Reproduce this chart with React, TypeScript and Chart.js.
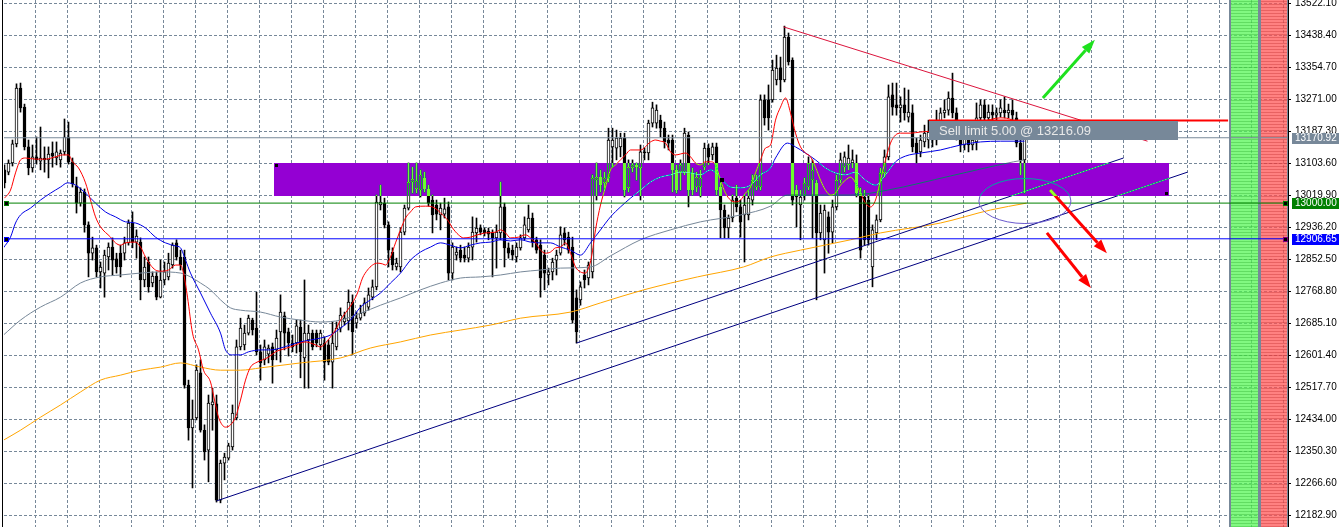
import React, { useEffect, useRef } from "react";
import { Chart, registerables } from "chart.js";

Chart.register(...registerables);

// ---------- Candles (bar 1..256) ----------
const opens = [13087,13081,13105,13155,13301,13251,13147,13092,13121,13110,
13118,13113,13131,13118,13113,13134,13173,13108,13045,13000,
13029,12943,12869,12883,12820,12817,12859,12885,12854,12869,
12869,12896,12948,12898,12898,12799,12846,12791,12809,12754,
12799,12807,12838,12896,12859,12859,12524,12412,12438,12556,
12406,12354,12472,12475,12223,12320,12333,12362,12438,12624,
12629,12660,12694,12673,12611,12590,12605,12624,12616,12663,
12705,12663,12634,12634,12676,12595,12642,12660,12660,12629,
12634,12629,12584,12624,12673,12689,12692,12741,12686,12699,
12712,12728,12754,12781,12995,13000,12943,12872,12833,12833,
12924,12987,13055,13037,13034,13066,13037,13008,12995,12969,
12971,12990,12817,12864,12877,12864,12856,12885,12922,12935,
12930,12927,12922,12909,12922,12990,12883,12877,12859,12883,
12909,12930,12961,12904,12890,12864,12812,12820,12851,12869,
12922,12911,12885,12752,12747,12812,12804,12820,13060,13068,
13053,13066,13147,13144,13147,13170,13040,13092,13100,13092,
13134,13131,13209,13209,13217,13196,13165,13165,13087,13081,
13081,13178,13079,13042,13042,13094,13144,13126,13147,13042,
12982,12935,12961,13013,12990,12969,12969,13008,13042,13042,
13270,13270,13270,13322,13353,13322,13434,13374,13034,12995,
13021,13042,13060,13053,12922,12904,12964,12924,12990,13060,
13094,13100,13105,13105,13026,13016,13008,12833,12922,12956,
13079,13121,13283,13257,13249,13257,13225,13236,13157,13134,
13160,13165,13183,13165,13191,13236,13243,13275,13236,13191,
13152,13165,13152,13160,13223,13257,13223,13238,13230,13236,
13243,13236,13243,13223,13157,13113];

const highs = [13100,13113,13165,13312,13314,13259,13165,13152,13173,13199,
13147,13147,13160,13160,13139,13220,13212,13118,13068,13040,
13037,12951,12911,12890,12846,12877,12896,12909,12869,12890,
12911,12956,12977,12930,12909,12859,12859,12820,12820,12851,
12846,12869,12896,12904,12877,12877,12537,12485,12577,12590,
12420,12498,12516,12498,12328,12346,12372,12472,12642,12699,
12681,12707,12699,12767,12629,12642,12629,12634,12668,12760,
12715,12673,12655,12694,12694,12799,12681,12668,12668,12668,
12650,12642,12689,12689,12726,12715,12773,12760,12715,12733,
12752,12778,12799,13021,13047,13013,12951,12883,12856,12935,
12995,13105,13094,13105,13087,13081,13047,13021,13008,13000,
13013,13003,12896,12885,12890,12885,12896,12964,12961,12943,
12935,12935,12930,12943,13055,13000,12896,12890,12896,12917,
12964,12995,12974,12911,12904,12877,12830,12856,12877,12938,
12935,12924,12911,12773,12794,12825,12846,13074,13105,13087,
13081,13196,13196,13191,13183,13183,13113,13113,13105,13152,
13144,13217,13264,13257,13230,13212,13178,13178,13100,13113,
13196,13186,13092,13081,13087,13157,13155,13157,13157,13053,
12995,12969,13021,13047,13008,13021,13034,13074,13074,13283,
13283,13309,13374,13387,13382,13463,13445,13380,13047,13034,
13066,13121,13113,13060,12995,12995,12977,13008,13074,13131,
13134,13152,13139,13126,13040,13034,13021,12943,12969,13092,
13139,13309,13314,13314,13278,13301,13296,13257,13170,13178,
13204,13217,13204,13243,13249,13270,13291,13340,13249,13204,
13183,13178,13191,13262,13270,13270,13257,13257,13249,13270,
13278,13259,13270,13238,13170,13178];

const lows = [13040,13074,13097,13147,13238,13139,13074,13081,13102,13087,
13081,13066,13094,13100,13094,13126,13102,13042,12974,12992,
12924,12807,12851,12807,12778,12754,12825,12812,12817,12807,
12851,12890,12883,12856,12747,12781,12767,12781,12747,12752,
12786,12799,12830,12851,12825,12516,12380,12255,12433,12401,
12328,12271,12406,12218,12216,12276,12328,12354,12433,12616,
12616,12655,12655,12603,12537,12577,12582,12529,12590,12584,
12616,12600,12611,12608,12543,12516,12516,12616,12624,12616,
12537,12577,12516,12616,12663,12681,12668,12603,12673,12694,
12705,12720,12747,12773,12982,12935,12833,12825,12825,12820,
12917,12982,13026,13026,13016,13029,12992,12922,12956,12930,
12961,12799,12799,12851,12846,12846,12846,12851,12898,12917,
12914,12904,12807,12830,12904,12833,12856,12851,12846,12877,
12904,12924,12885,12869,12754,12773,12786,12799,12812,12864,
12890,12869,12686,12634,12733,12778,12786,12804,13008,13029,
13034,13055,13094,13113,13121,13016,13029,13081,13060,13008,
13113,13113,13199,13196,13173,13144,13139,13029,13026,13034,
13074,12990,13021,13029,13016,13087,13100,13113,13021,12909,
12909,12909,12951,12977,12911,12846,12956,12995,13034,13034,
13204,13191,13264,13309,13291,13317,13361,12995,12938,12904,
13008,13034,12909,12747,12904,12817,12869,12896,12982,13053,
13081,13087,13092,13016,12856,12890,12890,12781,12904,12951,
13068,13113,13230,13230,13212,13217,13212,13134,13105,13121,
13147,13144,13147,13152,13178,13223,13230,13223,13165,13134,
13139,13134,13139,13139,13212,13212,13212,13217,13217,13225,
13223,13223,13217,13147,13074,13026];

const closes = [13053,13105,13155,13301,13249,13147,13092,13121,13113,13118,
13113,13128,13123,13134,13131,13173,13108,13050,13000,13029,
12943,12869,12883,12820,12833,12864,12885,12851,12833,12833,
12896,12948,12898,12914,12799,12833,12781,12809,12754,12799,
12820,12843,12890,12859,12838,12524,12412,12435,12563,12406,
12349,12477,12480,12223,12320,12336,12365,12451,12624,12673,
12660,12699,12668,12611,12582,12624,12621,12590,12647,12715,
12660,12634,12624,12679,12611,12660,12660,12624,12634,12660,
12584,12584,12634,12673,12707,12699,12741,12663,12699,12712,
12739,12760,12781,13003,13003,12943,12877,12838,12843,12924,
12987,13055,13063,13058,13074,13037,13000,12969,12971,12987,
12985,12817,12885,12872,12856,12856,12885,12924,12935,12924,
12922,12919,12909,12924,12990,12883,12869,12864,12885,12909,
12943,12961,12898,12877,12804,12817,12820,12846,12864,12917,
12904,12877,12694,12663,12781,12799,12838,13066,13068,13047,
13066,13165,13165,13170,13170,13034,13094,13100,13094,13134,
13131,13209,13249,13243,13196,13160,13157,13087,13034,13100,
13183,13034,13034,13068,13066,13144,13121,13147,13034,12982,
12935,12961,13008,12990,12951,12995,13013,13060,13060,13270,
13223,13223,13348,13353,13322,13434,13369,13008,13016,13016,
13053,13105,13087,12922,12974,12982,12924,12990,13060,13113,
13121,13118,13113,13026,12877,12904,12904,12930,12956,13079,
13121,13278,13251,13249,13257,13236,13238,13147,13131,13165,
13183,13186,13165,13191,13236,13243,13275,13236,13191,13152,
13170,13152,13165,13223,13257,13223,13238,13230,13236,13249,
13236,13243,13230,13157,13113,13171];

// ---------- Moving averages ----------
const redMaBars = [1,2.5,3.75,5,6.25,8.75,11.25,13.75,15.5,17,
18,19.5,21.25,22.5,23.75,25,27.5,28.75,30,31.25,
33.75,35,36.25,37.5,38.75,40,42,43.75,45,45.75,
46.75,48,49.5,50.75,52.5,53.5,54.5,56.25,57.5,58.75,
60,61.25,62.5,63.75,65.5,67,68.75,70,72.5,75,
76.25,78.75,80,81.25,82.5,83.75,85,86.75,88,89.25,
90.5,91.75,93,94.25,95.5,96.25,97.5,98.75,100,101.25,
102.5,103.75,106.25,108,109.25,110.5,111.75,113,114.5,115.75,
117.5,119.25,121.25,123.75,125,126.25,127.5,129.5,131.25,132.5,
133.75,135,136.25,137.5,138.75,140,141.25,142.5,143.75,145,
146.25,147,147.75,148.75,150,151.25,152.5,153.75,155,156.25,
157.5,160,162.5,163.75,165,166.25,167.5,168.75,171.25,172.5,
173.75,175,176.25,177.5,178.75,180,181.25,182.5,183.75,185,
186.25,187.5,188.75,190,191.25,192.5,193.75,195,196.25,197.5,
198.75,200,201.25,202.5,203.75,205,206.25,207.5,208.75,210,
211.25,212.5,213.75,215,216.25,217.5,218.75,220,221.25,222.5,
223.75,225,227.5,230,235,240,245,250,253,256];
const redMaValues = [13013,13034,13079,13113,13118,13115,13115,13121,13126,13126,
13108,13092,13053,13008,12964,12938,12911,12896,12890,12896,
12898,12885,12859,12838,12825,12822,12825,12838,12838,12817,
12754,12660,12616,12563,12532,12485,12440,12414,12420,12440,
12485,12537,12571,12582,12590,12597,12611,12616,12624,12634,
12637,12629,12624,12634,12650,12668,12694,12720,12739,12765,
12804,12825,12838,12843,12841,12838,12859,12896,12930,12961,
12977,12990,12992,12990,12982,12969,12956,12935,12917,12909,
12911,12917,12922,12924,12930,12922,12909,12911,12917,12909,
12896,12877,12869,12872,12883,12885,12896,12869,12833,12820,
12817,12830,12859,12930,12995,13042,13087,13100,13113,13126,
13139,13139,13160,13165,13162,13157,13134,13126,13131,13121,
13105,13100,13108,13108,13100,13060,13026,13008,13003,13008,
13026,13042,13079,13113,13144,13152,13217,13251,13275,13236,
13183,13147,13131,13121,13094,13060,13034,13021,13026,13047,
13060,13068,13053,13026,13000,12990,13008,13060,13113,13157,
13178,13183,13183,13186,13191,13204,13212,13223,13217,13191];

const blueMaBars = [0.75,2.5,3.75,5,7.5,10,12.5,15,16.75,18.75,
21.25,23.75,26.25,28.75,31.25,33.75,36.25,38.75,41.25,43.75,
45,46.25,47.5,50,52.5,55,56.25,58,60,62,
65,67.5,70,72.5,75,77.5,80,82.5,85,87.5,
90,92.5,95,97.5,100,102.5,105,107.5,110,112.5,
115,117.5,120,122.5,125,127.5,130,132.5,135,137.5,
140,142.5,145,147.5,150,152.5,155,157.5,160,162.5,
165,167.5,170,172.5,175,177.5,180,182.5,185,187.5,
190,192.5,193.75,196.75,198.75,201.25,203.75,206.25,208.75,211.25,
213.75,216.25,218.75,221.25,223.75,226.25,230,235,240,245,
250,256];
const blueMaValues = [12883,12911,12948,12969,12987,13008,13026,13042,13053,13047,
13026,13000,12977,12964,12951,12948,12935,12911,12896,12888,
12883,12851,12817,12765,12712,12660,12616,12603,12603,12611,
12616,12616,12621,12629,12637,12642,12647,12655,12673,12694,
12728,12747,12765,12791,12817,12851,12872,12885,12896,12890,
12883,12890,12896,12898,12904,12901,12904,12898,12896,12896,
12885,12877,12864,12896,12930,12964,12990,13013,13034,13055,
13068,13074,13081,13079,13074,13087,13066,13042,13040,13047,
13074,13092,13118,13157,13147,13131,13113,13092,13079,13074,
13081,13060,13047,13074,13108,13123,13131,13139,13152,13160,
13162,13162];

const grayMaBars = [0.75,5,10,15,20,25,30,35,40,45,
47.5,50,52.5,55,57.5,60,65,70,75,80,
85,90,95,100,105,110,115,120,125,130,
135,140,147.5,152.5,160,167.5,175,185,192.5,196.75,
212.5,221.75,237.5,253.25,256];
const grayMaValues = [12655,12694,12728,12754,12791,12807,12812,12817,12820,12817,
12807,12791,12773,12747,12726,12720,12715,12702,12694,12689,
12694,12712,12733,12752,12773,12791,12804,12807,12812,12820,
12825,12830,12833,12862,12904,12930,12951,12969,12992,13021,
13021,13034,13071,13108,13113];

const orangeMaBars = [0.75,5,10,15,20,25,30,35,40,45,
50,55,60,65,75,85,92.5,100,107.5,115,
122.5,130,142.5,150,160.75,174.25,185.75,192.5,200,212.5,
220,235,247.5,256.5];
const orangeMaValues = [12380,12406,12440,12472,12506,12537,12550,12563,12571,12582,
12571,12563,12563,12569,12582,12595,12621,12637,12655,12668,
12681,12699,12715,12739,12773,12807,12833,12859,12877,12904,
12922,12948,12982,13000];

// ---------- Objects ----------
const trendSupportA = [[144, 12634], [280.75, 13118]];
const trendSupportB = [[54, 12221], [296.75, 13081]];
const trendResistance = [[195.75, 13461], [286.75, 13162]];
const zoneBars = [68.4, 292];
const zonePrices = [13105, 13018];
const bidPrice = 13170.92;
const levelGreen = 13000.0;
const levelBlue = 12906.65;
const sellLimitPrice = 13216.09;
const sellLimitBars = [232.1, 306.9];
const sellLimitText = "Sell limit 5.00 @ 13216.09";
const ellipseCenter = [256.1, 13005.5];
const ellipseRadius = [11.5, 58.9];
const greenArrow = [[260.6, 13275], [273.6, 13427]];
const redArrowA = [[262.4, 13034], [276.6, 12869]];
const redArrowB = [[261.6, 12922], [272.6, 12778]];
const yTickValues = [12182.9,12266.6,12350.3,12434.0,12517.7,12601.4,12685.1,12768.8,12852.5,
12936.2,13019.9,13103.6,13187.3,13271.0,13354.7,13438.4,13522.1];

const X_MIN = 0.875;
const X_MAX = 321.875;
const Y_MIN = 12152.83;
const Y_MAX = 13531.25;
const GRID = "rgb(119,136,153)";
const FONT = "'Liberation Sans', Arial, sans-serif";
const AXIS_FONT = "'Liberation Sans', Arial, sans-serif";
const AXIS_SIZE = 10;

const xGridValues = Array.from({ length: 40 }, (_, k) => 8.75 + 8 * k);

function drawArrow(ctx: CanvasRenderingContext2D, x0: number, y0: number, x1: number, y1: number, color: string) {
  const ang = Math.atan2(y1 - y0, x1 - x0);
  const headLen = 14, headW = 5;
  const bx = x1 - headLen * Math.cos(ang);
  const by = y1 - headLen * Math.sin(ang);
  ctx.strokeStyle = color;
  ctx.lineWidth = 3;
  ctx.beginPath();
  ctx.moveTo(x0, y0);
  ctx.lineTo(bx, by);
  ctx.stroke();
  ctx.fillStyle = color;
  ctx.beginPath();
  ctx.moveTo(x1, y1);
  ctx.lineTo(bx + headW * Math.sin(ang), by - headW * Math.cos(ang));
  ctx.lineTo(bx - headW * Math.sin(ang), by + headW * Math.cos(ang));
  ctx.closePath();
  ctx.fill();
}

function marker(ctx: CanvasRenderingContext2D, x: number, y: number, border: string) {
  ctx.fillStyle = border;
  ctx.fillRect(x, y, 5, 5);
  ctx.fillStyle = "#000";
  ctx.fillRect(x + 1, y + 1, 3, 3);
}

const mt4Plugin = {
  id: "mt4",
  beforeDraw(chart: any) {
    const ctx = chart.ctx;
    ctx.save();
    ctx.fillStyle = "#ffffff";
    ctx.fillRect(0, 0, chart.width, chart.height);
    ctx.restore();
  },
  beforeDatasetsDraw(chart: any) {
    const ctx = chart.ctx as CanvasRenderingContext2D;
    const xs = chart.scales.x, ys = chart.scales.y;
    const ca = chart.chartArea;
    ctx.save();
    const zx0 = Math.round(xs.getPixelForValue(zoneBars[0]));
    const zx1 = Math.round(xs.getPixelForValue(zoneBars[1]));
    const zy0 = Math.round(ys.getPixelForValue(zonePrices[0]));
    const zy1 = Math.round(ys.getPixelForValue(zonePrices[1]));
    ctx.fillStyle = "#ffffff";
    ctx.fillRect(zx0, zy0, zx1 - zx0, zy1 - zy0);
    const p = (v: number) => Math.round(xs.getPixelForValue(v) - 0.5);
    const g0 = p(307.625), g1 = p(314.375), r0 = p(315.125), r1 = p(321.625);
    const top = ca.top, h = ca.bottom - ca.top;
    ctx.fillStyle = GRID;
    ctx.fillRect(p(307.125), top, g0 - p(307.125), h);
    ctx.fillRect(g1, top, r0 - g1, h);
    ctx.fillRect(r1, top, ca.right - r1, h);
    ctx.globalAlpha = 0.72;
    ctx.fillStyle = "rgb(80,245,80)";
    ctx.fillRect(g0, top, g1 - g0, h);
    ctx.fillStyle = "rgb(255,80,80)";
    ctx.fillRect(r0, top, r1 - r0, h);
    ctx.globalAlpha = 0.35;
    for (let y = top + 1; y < ca.bottom; y += 3) {
      ctx.fillStyle = "rgb(40,170,40)";
      ctx.fillRect(g0, y, g1 - g0, 1);
      ctx.fillStyle = "rgb(190,40,40)";
      ctx.fillRect(r0, y, r1 - r0, 1);
    }
    ctx.restore();
  },
  afterDatasetsDraw(chart: any) {
    const ctx = chart.ctx as CanvasRenderingContext2D;
    const xs = chart.scales.x, ys = chart.scales.y;
    const ca = chart.chartArea;
    const X = (v: number) => xs.getPixelForValue(v);
    const Y = (v: number) => ys.getPixelForValue(v);
    ctx.save();
    ctx.beginPath();
    ctx.rect(ca.left, ca.top, ca.right - ca.left, ca.bottom - ca.top);
    ctx.clip();
    const cx = X(ellipseCenter[0]), cy = Y(ellipseCenter[1]);
    const rx = Math.abs(X(ellipseCenter[0] + ellipseRadius[0]) - cx);
    const ry = Math.abs(Y(ellipseCenter[1] + ellipseRadius[1]) - cy);
    ctx.strokeStyle = "rgb(106,90,205)";
    ctx.lineWidth = 1;
    ctx.beginPath();
    ctx.ellipse(cx, cy, rx, ry, 0, 0, Math.PI * 2);
    ctx.stroke();
    drawArrow(ctx, X(greenArrow[0][0]), Y(greenArrow[0][1]), X(greenArrow[1][0]), Y(greenArrow[1][1]), "rgb(30,225,30)");
    drawArrow(ctx, X(redArrowA[0][0]), Y(redArrowA[0][1]), X(redArrowA[1][0]), Y(redArrowA[1][1]), "rgb(255,0,0)");
    drawArrow(ctx, X(redArrowB[0][0]), Y(redArrowB[0][1]), X(redArrowB[1][0]), Y(redArrowB[1][1]), "rgb(255,0,0)");
    const zx0 = Math.round(X(zoneBars[0]));
    const zx1 = Math.round(X(zoneBars[1]));
    const zy0 = Math.round(Y(zonePrices[0]));
    const zy1 = Math.round(Y(zonePrices[1]));
    ctx.globalCompositeOperation = "difference";
    ctx.fillStyle = "rgb(107,255,44)";
    ctx.fillRect(zx0, zy0, zx1 - zx0, zy1 - zy0);
    ctx.globalCompositeOperation = "source-over";
    marker(ctx, zx0, zy0, "rgb(148,0,211)");
    marker(ctx, zx1 - 5, zy1 - 5, "rgb(148,0,211)");
    ctx.fillStyle = "#000";
    ctx.fillRect(Math.round((zx0 + zx1) / 2) - 2, Math.round((zy0 + zy1) / 2) - 2, 4, 4);
    const yg = Math.round(Y(levelGreen)), yb = Math.round(Y(levelBlue));
    marker(ctx, 4, yg - 2, "rgb(0,128,0)");
    marker(ctx, 4, yb - 2, "rgb(0,0,255)");
    marker(ctx, ca.right - 5, yg - 2, "rgb(0,128,0)");
    marker(ctx, ca.right - 5, yb - 2, "rgb(128,0,128)");
    const ys0 = Math.round(Y(sellLimitPrice));
    const lx0 = Math.round(X(sellLimitBars[0]));
    ctx.fillStyle = "rgb(119,136,153)";
    ctx.fillRect(lx0, ys0 + 1, 249, 19);
    ctx.fillStyle = "rgb(232,232,232)";
    ctx.font = `13px ${FONT}`;
    ctx.textBaseline = "middle";
    ctx.textAlign = "left";
    ctx.fillText(sellLimitText, lx0 + 10, ys0 + 11);
    ctx.restore();

    ctx.save();
    ctx.fillStyle = "#000";
    ctx.fillRect(2, 0, 1, chart.height);
    const tags: [number, string][] = [[bidPrice, "rgb(119,136,153)"], [levelGreen, "rgb(0,128,0)"], [levelBlue, "rgb(0,0,255)"]];
    ctx.font = `${AXIS_SIZE}px ${AXIS_FONT}`;
    ctx.textBaseline = "middle";
    ctx.textAlign = "left";
    for (const [price, col] of tags) {
      const yy = Math.round(Y(price));
      ctx.fillStyle = col;
      ctx.fillRect(ca.right + 4, yy - 5, 47, 11);
      ctx.fillStyle = "#ffffff";
      ctx.fillText(price.toFixed(2), ca.right + 7, yy + 0.5);
    }
    ctx.restore();
  },
};

export default function App() {
  const ref = useRef<HTMLCanvasElement | null>(null);
  useEffect(() => {
    document.body.style.margin = "0";
    const bars = closes.map((_, i) => i + 1);
    const line = (bx: number[], vals: number[]) => bx.map((b, i) => ({ x: b, y: vals[i] }));
    const seg = (pts: number[][]) => pts.map((p) => ({ x: p[0], y: p[1] }));
    const flat = (price: number, a = X_MIN, b = X_MAX) => [{ x: a, y: price }, { x: b, y: price }];
    const lineDs = (label: string, data: any[], color: string, order: number, width = 1, smooth = false) => ({
      type: "line" as const,
      label,
      data,
      borderColor: color,
      borderWidth: width,
      pointRadius: 0,
      fill: false,
      tension: 0,
      cubicInterpolationMode: smooth ? ("monotone" as const) : ("default" as const),
      order,
    });

    const chart = new Chart(ref.current as HTMLCanvasElement, {
      type: "bar",
      data: {
        datasets: [
          {
            type: "bar",
            label: "wicks",
            data: bars.map((b, i) => ({ x: b, y: [lows[i], highs[i]] })) as any,
            backgroundColor: "#000000",
            borderWidth: 0,
            barThickness: 1,
            grouped: false,
            order: 20,
          },
          {
            type: "bar",
            label: "bodies",
            data: bars.map((b, i) => ({ x: b, y: [opens[i], closes[i]] })) as any,
            backgroundColor: bars.map((_, i) => (closes[i] >= opens[i] ? "#ffffff" : "#000000")),
            borderColor: "#000000",
            borderWidth: 1,
            borderSkipped: false,
            barThickness: 3,
            grouped: false,
            order: 19,
          },
          lineDs("MA slow", line(orangeMaBars, orangeMaValues), "rgb(255,165,0)", 18, 1, true),
          lineDs("MA 55", line(grayMaBars, grayMaValues), "rgb(119,136,153)", 17, 1, true),
          lineDs("MA 21", line(blueMaBars, blueMaValues), "rgb(0,0,230)", 16, 1, true),
          lineDs("MA 8", line(redMaBars, redMaValues), "rgb(255,0,0)", 15, 1, true),
          lineDs("support A", seg(trendSupportA), "rgb(0,0,128)", 10),
          lineDs("support B", seg(trendSupportB), "rgb(0,0,128)", 10),
          lineDs("resistance", seg(trendResistance), "rgb(220,20,60)", 10),
          lineDs("bid", flat(bidPrice), "rgb(119,136,153)", 9),
          lineDs("13000", flat(levelGreen), "rgb(0,128,0)", 8),
          lineDs("12906.65", flat(levelBlue), "rgb(0,0,255)", 8),
          lineDs("sell limit", flat(sellLimitPrice, sellLimitBars[0], sellLimitBars[1]), "rgb(255,0,0)", 7, 2),
        ] as any,
      },
      options: {
        responsive: false,
        animation: false,
        devicePixelRatio: 1,
        events: [],
        layout: { padding: { left: 4, right: 0, top: 0, bottom: 0 } },
        plugins: { legend: { display: false }, tooltip: { enabled: false } },
        scales: {
          x: {
            type: "linear",
            position: "bottom",
            min: X_MIN,
            max: X_MAX,
            bounds: "data",
            offset: false,
            grid: { color: GRID, lineWidth: 1, drawTicks: false, offset: false },
            border: { display: false, dash: [3, 2] },
            ticks: { display: false },
            afterBuildTicks: (s: any) => {
              s.ticks = xGridValues.map((v) => ({ value: v }));
            },
            afterFit: (s: any) => {
              s.height = 0;
              s.paddingLeft = 0;
              s.paddingRight = 0;
            },
          },
          y: {
            type: "linear",
            position: "right",
            min: Y_MIN,
            max: Y_MAX,
            bounds: "data",
            grid: { color: GRID, lineWidth: 1, drawTicks: true, tickLength: 3, tickColor: "#000", tickWidth: 1, tickBorderDash: [] },
            border: { display: true, color: "#000", width: 1, dash: [3, 2] },
            ticks: {
              autoSkip: false,
              padding: 4,
              color: "#000",
              font: { family: AXIS_FONT, size: AXIS_SIZE },
              callback: (v: any) => Number(v).toFixed(2),
            },
            afterBuildTicks: (s: any) => {
              s.ticks = yTickValues.map((v) => ({ value: v }));
            },
            afterFit: (s: any) => {
              s.width = 56;
              s.paddingTop = 0;
              s.paddingBottom = 0;
            },
          },
        } as any,
      },
      plugins: [mt4Plugin],
    } as any);
    return () => chart.destroy();
  }, []);
  return (
    <div style={{ width: 1344, height: 527 }}>
      <canvas ref={ref} width={1344} height={527} style={{ display: "block", width: 1344, height: 527 }} />
    </div>
  );
}
